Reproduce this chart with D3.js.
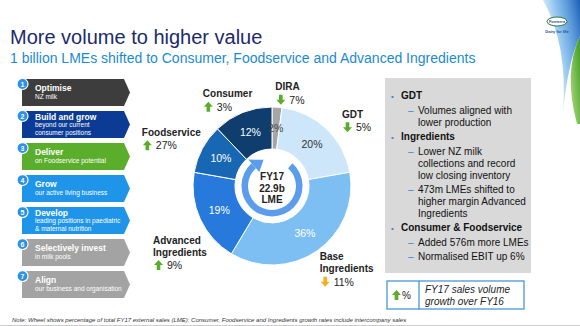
<!DOCTYPE html>
<html>
<head>
<meta charset="utf-8">
<script src="https://cdn.jsdelivr.net/npm/d3@7"></script>
<style>
  body { margin: 0; background: #fff; }
  svg { font-family: "Liberation Sans", Arial, sans-serif; display: block; }
</style>
</head>
<body>
<svg width="580" height="326"></svg>
<script>
// wheel data (share of FY17 external sales, growth vs FY16)
const segNames = ['DIRA', 'GDT', 'Base Ingredients', 'Advanced Ingredients', 'Foodservice', 'Consumer'];
const segShares = [2, 20, 36, 19, 10, 12];
const segGrowth = [7, 5, 11, 9, 27, 3];
const segDir = ['down', 'down', 'down', 'up', 'up', 'up'];
const segColors = ['#a6a6a6', '#cde6f9', '#7dbff3', '#2779dc', '#1767b3', '#0e3d6e'];
const segTextColors = ['#444', '#333', '#fff', '#fff', '#fff', '#fff'];

// strategy steps on the left
const stepTitles = ['Optimise', 'Build and grow', 'Deliver', 'Grow', 'Develop', 'Selectively invest', 'Align'];
const stepSubs = [
  ['NZ milk'],
  ['beyond our current', 'consumer positions'],
  ['on Foodservice potential'],
  ['our active living business'],
  ['leading positions in paediatric', '& maternal nutrition'],
  ['in milk pools'],
  ['our business and organisation']
];
const stepColors = ['#3d3d3d', '#0b3b94', '#5bae2b', '#1f95ea', '#1f95ea', '#a3a3a3', '#a3a3a3'];

// commentary box
const notes = [
  { head: 'GDT', items: [['Volumes aligned with', 'lower production']] },
  { head: 'Ingredients', items: [['Lower NZ milk', 'collections and record', 'low closing inventory'],
                                 ['473m LMEs shifted to', 'higher margin Advanced', 'Ingredients']] },
  { head: 'Consumer & Foodservice', items: [['Added 576m more LMEs'], ['Normalised EBIT up 6%']] }
];

let svg = d3.select('svg');
const green = '#5aad2b', orange = '#f2b11c';

// ---- top-right decoration + logo
let defs = svg.append('defs');
let gb = defs.append('linearGradient').attr('id', 'gb').attr('x1', 1).attr('y1', 0).attr('x2', 0).attr('y2', 0.6);
gb.append('stop').attr('offset', 0).attr('stop-color', '#1a5fb8');
gb.append('stop').attr('offset', 0.5).attr('stop-color', '#5aa7e6').attr('stop-opacity', 0.7);
gb.append('stop').attr('offset', 1).attr('stop-color', '#e3f0fb').attr('stop-opacity', 0.3);
let gg = defs.append('linearGradient').attr('id', 'gg').attr('x1', 1).attr('y1', 0).attr('x2', 0).attr('y2', 1);
gg.append('stop').attr('offset', 0).attr('stop-color', '#3f9a22');
gg.append('stop').attr('offset', 1).attr('stop-color', '#b5de86');
svg.append('path').attr('d', 'M543,0 L580,0 L580,36 Q568,62 563,112 Q568,45 543,0 Z').attr('fill', 'url(#gb)');
svg.append('path').attr('d', 'M580,36 Q563,72 577,124 L580,124 Z').attr('fill', 'url(#gg)');
svg.append('ellipse').attr('cx', 557).attr('cy', 21.5).attr('rx', 10).attr('ry', 4.5)
  .attr('fill', '#fff').attr('stroke', '#2b7a3a').attr('stroke-width', 1);
svg.append('text').attr('x', 557).attr('y', 23).attr('text-anchor', 'middle')
  .attr('font-size', 4).attr('font-weight', 'bold').attr('fill', '#1a4f9c').text('Fonterra');
svg.append('text').attr('x', 557).attr('y', 33).attr('text-anchor', 'middle')
  .attr('font-size', 4).attr('font-weight', 'bold').attr('fill', '#1a4f9c').text('Dairy for life');

// ---- titles
svg.append('text').attr('x', 10).attr('y', 44).attr('font-size', 20).attr('fill', '#1b2a6b')
  .text('More volume to higher value');
svg.append('text').attr('x', 10).attr('y', 63).attr('font-size', 14).attr('fill', '#1b8ad6')
  .text('1 billion LMEs shifted to Consumer, Foodservice and Advanced Ingredients');

// ---- left chevrons
let stepY = d3.scaleBand().domain(d3.range(stepTitles.length)).range([79, 298]).paddingInner(0.16);
let steps = svg.selectAll('.step').data(stepTitles).enter().append('g')
  .attr('class', 'step').attr('transform', (d, i) => `translate(22,${stepY(i)})`);
let h = stepY.bandwidth();
steps.append('path')
  .attr('d', `M0,0 H102 L108,${h / 2} L102,${h} H0 Z`)
  .attr('fill', (d, i) => stepColors[i]);
steps.each(function(d, i) {
  let g = d3.select(this);
  let lines = stepSubs[i];
  let top = lines.length > 1 ? 8.5 : 12;
  g.append('text').attr('x', 13).attr('y', top).attr('font-size', 8.5).attr('font-weight', 'bold')
    .attr('fill', '#fff').text(d);
  lines.forEach((l, j) => {
    g.append('text').attr('x', 13).attr('y', top + 7.8 + j * 7.5).attr('font-size', 6.5)
      .attr('fill', '#fff').text(l);
  });
  g.append('circle').attr('cx', 0.5).attr('cy', 5).attr('r', 5.5)
    .attr('fill', '#2a90e8').attr('stroke', '#fff').attr('stroke-width', 1.2);
  g.append('text').attr('x', 0.5).attr('y', 7.5).attr('text-anchor', 'middle')
    .attr('font-size', 7).attr('font-weight', 'bold').attr('fill', '#fff').text(i + 1);
});

// ---- wheel
const cx = 272, cy = 186, rOut = 79, rIn = 37;
let pie = d3.pie().sort(null).value(d => d);
let arcs = pie(segShares);
let arc = d3.arc().innerRadius(rIn).outerRadius(rOut);
let labelArc = d3.arc().innerRadius(58).outerRadius(58);
let wheel = svg.append('g').attr('transform', `translate(${cx},${cy})`);
wheel.selectAll('path.seg').data(arcs).enter().append('path').attr('class', 'seg')
  .attr('d', arc).attr('fill', (d, i) => segColors[i])
  .attr('stroke', '#fff').attr('stroke-width', 1);
wheel.selectAll('text.pct').data(arcs).enter().append('text').attr('class', 'pct')
  .attr('transform', d => `translate(${labelArc.centroid(d)})`)
  .attr('dy', '0.35em').attr('text-anchor', 'middle').attr('font-size', 10.5)
  .attr('fill', (d, i) => segTextColors[i]).text(d => d.value + '%');

// circular arrow in the centre
let ring = d3.arc().innerRadius(24).outerRadius(30.5)
  .startAngle(42 * Math.PI / 180).endAngle(318 * Math.PI / 180);
wheel.append('path').attr('d', ring()).attr('fill', '#5c9cec');
let ha = 318 * Math.PI / 180, ta = 342 * Math.PI / 180;
let pt = (r, a) => [r * Math.sin(a), -r * Math.cos(a)];
wheel.append('path')
  .attr('d', `M${pt(19, ha)}L${pt(35.5, ha)}L${pt(27.5, ta)}Z`)
  .attr('fill', '#5c9cec');
['FY17', '22.9b', 'LME'].forEach((t, i) => {
  wheel.append('text').attr('y', -6 + i * 11.5).attr('text-anchor', 'middle')
    .attr('font-size', 10).attr('font-weight', 'bold').attr('fill', '#222').text(t);
});

// block arrow for growth markers
function blockArrow(g, x, y, dir, color) {
  // x,y = top-left of a 9x10 box
  let p = dir === 'up'
    ? [[4.5, 0], [9, 5], [6.3, 5], [6.3, 10], [2.7, 10], [2.7, 5], [0, 5]]
    : [[4.5, 10], [9, 5], [6.3, 5], [6.3, 0], [2.7, 0], [2.7, 5], [0, 5]];
  g.append('path').attr('d', 'M' + p.map(q => [x + q[0], y + q[1]]).join('L') + 'Z').attr('fill', color);
}

// outside labels: anchored from each slice's mid angle, nudged off the rim
const labelNudge = [[-3, 4], [1, 4], [-9, -8], [-28, 16], [-42, -3], [-32, 4]];
const labelSplit = [['DIRA'], ['GDT'], ['Base', 'Ingredients'], ['Advanced', 'Ingredients'], ['Foodservice'], ['Consumer']];
arcs.forEach((d, i) => {
  let a = (d.startAngle + d.endAngle) / 2;
  let x = cx + 100 * Math.sin(a) + labelNudge[i][0];
  let y = cy - 100 * Math.cos(a) + labelNudge[i][1];
  labelSplit[i].forEach((t, j) => {
    svg.append('text').attr('x', x).attr('y', y + j * 12).attr('font-size', 10)
      .attr('font-weight', 'bold').attr('fill', '#222').text(t);
  });
  let ry = y + (labelSplit[i].length - 1) * 12 + 13.5;
  blockArrow(svg, x + 1, ry - 9, segDir[i], i === 2 ? orange : green);
  svg.append('text').attr('x', x + 14).attr('y', ry).attr('font-size', 10.5)
    .attr('fill', '#222').text(segGrowth[i] + '%');
});

// ---- commentary box
svg.append('rect').attr('x', 385).attr('y', 78).attr('width', 146).attr('height', 195).attr('fill', '#d9d9d9');
let ly = 99;
notes.forEach(n => {
  svg.append('text').attr('x', 391).attr('y', ly - 0.5).attr('font-size', 8).attr('fill', '#3a86cc').text('•');
  svg.append('text').attr('x', 401).attr('y', ly).attr('font-size', 10).attr('font-weight', 'bold')
    .attr('fill', '#111').text(n.head);
  ly += 15;
  n.items.forEach(lines => {
    svg.append('text').attr('x', 408).attr('y', ly).attr('font-size', 10).attr('fill', '#2f8ad6').text('–');
    lines.forEach((l, j) => {
      svg.append('text').attr('x', 418).attr('y', ly + j * 12).attr('font-size', 10)
        .attr('fill', '#111').text(l);
    });
    ly += lines.length * 12 + 2;
  });
});

// ---- legend
svg.append('rect').attr('x', 387).attr('y', 281).attr('width', 137).attr('height', 28)
  .attr('fill', '#fff').attr('stroke', '#3a8fd2').attr('stroke-width', 1.2);
svg.append('line').attr('x1', 419).attr('x2', 419).attr('y1', 281).attr('y2', 309)
  .attr('stroke', '#3a8fd2').attr('stroke-width', 1.2);
blockArrow(svg, 392, 290, 'up', green);
svg.append('text').attr('x', 402).attr('y', 299).attr('font-size', 10).attr('fill', '#222').text('%');
['FY17 sales volume', 'growth over FY16'].forEach((t, i) => {
  svg.append('text').attr('x', 425).attr('y', 293 + i * 12).attr('font-size', 10)
    .attr('font-style', 'italic').attr('fill', '#222').text(t);
});

// ---- footnote
svg.append('text').attr('x', 12).attr('y', 322).attr('font-size', 6).attr('font-style', 'italic')
  .attr('fill', '#333')
  .text('Note: Wheel shows percentage of  total FY17 external sales (LME); Consumer, Foodservice and Ingredients growth rates include intercompany sales');
svg.append('line').attr('x1', 0).attr('x2', 580).attr('y1', 325.5).attr('y2', 325.5).attr('stroke', '#ccc');
</script>
</body>
</html>
